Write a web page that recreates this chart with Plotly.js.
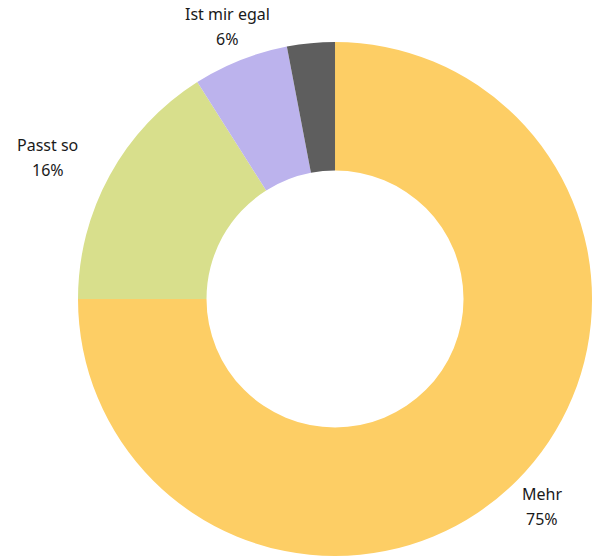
<!DOCTYPE html>
<html><head><meta charset="utf-8">
<script src="https://cdn.plot.ly/plotly-3.0.1.min.js"></script>
<style>html,body{margin:0;padding:0;background:#fff;}#chart{width:594px;height:556px;}</style>
</head><body><div id="chart"></div>
<script>
const labels = ["Mehr", "Passt so", "Ist mir egal", "Weniger"];
const values = [75, 16, 6, 3];
const showLabel = [true, true, true, false];
const colors = ["#FDCE65", "#D8DF8C", "#BCB3ED", "#5E5E5E"];

const W = 594, H = 556;
const dom = {x: [0.131, 0.997], y: [0, 0.9245]};
const cx = (dom.x[0] + dom.x[1]) / 2 * W;
const cy = H - (dom.y[0] + dom.y[1]) / 2 * H;
const R = Math.min((dom.x[1] - dom.x[0]) * W, (dom.y[1] - dom.y[0]) * H) / 2;
const labelR = R + 36;
const fontSize = 16;
const font = {family: "Noto Sans, sans-serif", size: fontSize, color: "#1a1a1a"};

// measure text width for centering the two lines under each other
const ctx = document.createElement("canvas").getContext("2d");
ctx.font = fontSize + "px 'Noto Sans'";
const tw = t => ctx.measureText(t).width;

const total = values.reduce((a, b) => a + b, 0);
const annotations = [];
let cum = 0;
values.forEach((v, i) => {
  const mid = (cum + v / 2) / total * 2 * Math.PI;
  cum += v;
  if (!showLabel[i]) return;
  const s = Math.sin(mid), c = Math.cos(mid);
  let px = cx + labelR * s;
  const py = cy - labelR * c;
  const line1 = labels[i], line2 = values[i] + "%";
  if (Math.abs(s) > 0.8) {
    const hw = Math.max(tw(line1), tw(line2)) / 2;
    px += s > 0 ? hw : -hw;
  }
  const base = {xref: "paper", yref: "paper", x: px / W, y: 1 - py / H,
    xanchor: "center", yanchor: "middle", showarrow: false, font: font};
  annotations.push(Object.assign({}, base, {text: line1, yshift: 12.5}));
  annotations.push(Object.assign({}, base, {text: line2, yshift: -12.5}));
});

Plotly.newPlot("chart", [{
  type: "pie",
  labels: labels,
  values: values,
  textinfo: "none",
  hole: 0.5,
  sort: false,
  direction: "clockwise",
  rotation: 0,
  marker: {colors: colors, line: {width: 0}},
  domain: dom,
  automargin: false,
  showlegend: false
}], {
  width: W, height: H,
  margin: {l: 0, r: 0, t: 0, b: 0},
  paper_bgcolor: "#fff",
  showlegend: false,
  annotations: annotations
}, {displayModeBar: false, staticPlot: true});
</script></body></html>
